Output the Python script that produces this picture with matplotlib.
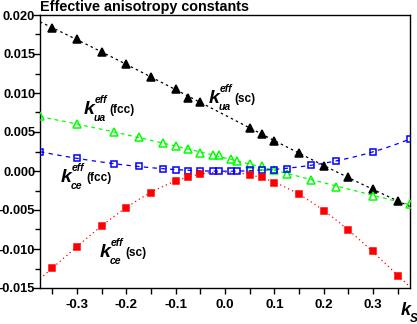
import numpy as np
import matplotlib
matplotlib.use("Agg")
import matplotlib.pyplot as plt
from matplotlib.ticker import MultipleLocator, FormatStrFormatter

plt.rcParams['font.family'] = ['Liberation Sans', 'DejaVu Sans']
plt.rcParams['axes.unicode_minus'] = False

# strain values (simple-cubic set and fcc set)
ks_sc = [-0.35, -0.3, -0.25, -0.2, -0.15, -0.1, -0.075, -0.05,
         0.05, 0.075, 0.1, 0.15, 0.2, 0.25, 0.3, 0.35]
ks_fcc = [-0.375, -0.3, -0.225, -0.175, -0.125, -0.1, -0.075, -0.05, -0.025, -0.0125,
          0.0125, 0.025, 0.05, 0.075, 0.1, 0.125, 0.175, 0.225, 0.3, 0.375]

k_ua_sc = [0.0183, 0.0169, 0.0153, 0.0137, 0.0121, 0.0105, 0.0093, 0.0089,
           0.0055, 0.0048, 0.0038, 0.0023, 0.0007, -0.0008, -0.0023, -0.0039]
k_ce_sc = [-0.01245, -0.00968, -0.00703, -0.0047, -0.00277, -0.00132, -0.00073, -0.0004,
           -0.0005, -0.0008, -0.0015, -0.0030, -0.0051, -0.0076, -0.0103, -0.0134]
k_ua_fcc = [0.00703, 0.00597, 0.00495, 0.00431, 0.00354, 0.0032, 0.0028, 0.00236, 0.00205, 0.0020,
            0.0015, 0.00132, 0.00086, 0.00064, 0.00015, -0.00038, -0.00115, -0.0020, -0.00316, -0.00426]
k_ce_fcc = [0.00247, 0.00162, 0.00093, 0.0006, 0.0003, 0.00017, 0.00004, 0.0, 0.0, 0.0,
            0.0, 0.0, 0.00009, 0.00009, 0.00017, 0.0003, 0.00077, 0.00128, 0.00247, 0.0041]

W, H = 417, 324
fig = plt.figure(figsize=(W / 100, H / 100), dpi=100)
ax = fig.add_axes([40 / W, 1 - 288 / H, 370 / W, 273 / H])

xlim = (-0.375, 0.375)
xs = np.linspace(xlim[0], xlim[1], 400)

series = [
    (ks_sc, k_ua_sc, 'black', '^', 'black', (0, (2.0, 2.5)), 3),
    (ks_fcc, k_ua_fcc, '#00ff00', '^', 'none', (0, (3.0, 3.0)), 3),
    (ks_fcc, k_ce_fcc, '#0000ff', 's', 'none', (0, (3.5, 3.5)), 4),
    (ks_sc, k_ce_sc, '#ff0000', 's', '#ff0000', (0, (1.0, 2.5)), 4),
]
for x, y, col, mk, fc, ls, deg in series:
    coef = np.polyfit(x, y, deg)
    ax.plot(xs, np.polyval(coef, xs), color=col, lw=0.9, ls=ls, zorder=2)
    ax.plot(x, y, ls='none', marker=mk, ms=6 if mk == '^' else 5.0,
            mfc=fc, mec=col, mew=1.1, zorder=3)

ax.set_xlim(*xlim)
ax.set_ylim(-0.015, 0.020)
ax.xaxis.set_major_locator(MultipleLocator(0.1))
ax.xaxis.set_minor_locator(MultipleLocator(0.05))
ax.yaxis.set_major_locator(MultipleLocator(0.005))
ax.yaxis.set_minor_locator(MultipleLocator(0.0025))
ax.xaxis.set_major_formatter(FormatStrFormatter('%.1f'))
ax.yaxis.set_major_formatter(FormatStrFormatter('%.3f'))
ax.tick_params(axis='y', which='major', direction='out', length=5, width=1, pad=-1.5,
               labelsize=9.3)
ax.tick_params(axis='y', which='minor', direction='out', length=3.5, width=1)
ax.tick_params(axis='x', which='both', direction='out', length=4, width=1, pad=4,
               labelsize=9.6)
for lab in ax.get_xticklabels() + ax.get_yticklabels():
    lab.set_fontweight('bold')
for sp in ax.spines.values():
    sp.set_linewidth(1.0)

fig.text(40 / W, 1 - 0.5 / H, 'Effective anisotropy constants', ha='left', va='top',
         fontsize=10.4, fontweight='bold')


def px(v):
    return v * 0.72


def curve_label(x, y, sub, paren):
    bi = dict(fontweight='bold', fontstyle='italic', ha='left', va='baseline')
    ax.annotate('k', (x, y), fontsize=14, **bi)
    ax.annotate('eff', (x, y), xytext=(px(11), px(11)), textcoords='offset points',
                fontsize=7.5, **bi)
    ax.annotate(sub, (x, y), xytext=(px(10), px(-7)), textcoords='offset points',
                fontsize=7.5, **bi)
    ax.annotate(paren, (x, y), xytext=(px(26), px(1)), textcoords='offset points',
                fontsize=8.5, fontweight='bold', ha='left', va='baseline')


curve_label(-0.287, 0.0073, 'ua', '(fcc)')
curve_label(-0.033, 0.0087, 'ua', '(sc)')
curve_label(-0.333, -0.0014, 'ce', '(fcc)')
curve_label(-0.255, -0.0110, 'ce', '(sc)')

fig.text(401 / W, 1 - 315 / H, 'k', fontsize=13, fontweight='bold', fontstyle='italic',
         ha='left', va='baseline')
fig.text(409.5 / W, 1 - 322 / H, 'S', fontsize=8.5, fontweight='bold', fontstyle='italic',
         ha='left', va='baseline')

fig.savefig('out.png', dpi=100)
